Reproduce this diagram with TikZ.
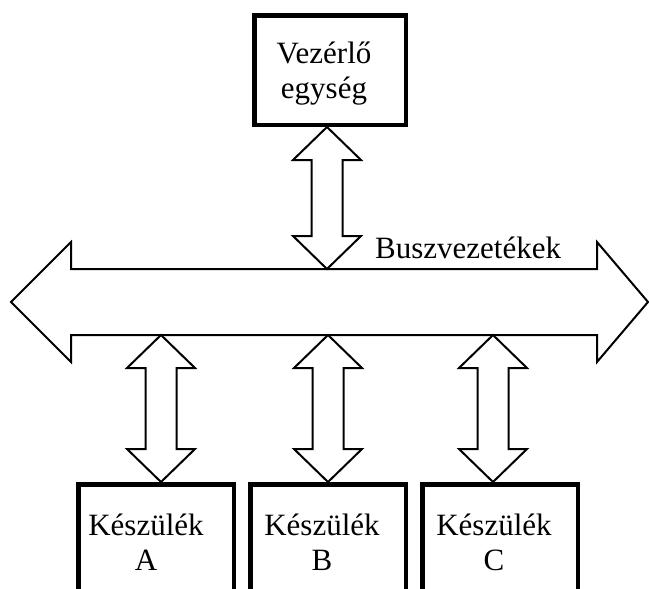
\documentclass[tikz,border=0pt]{standalone}
\usepackage{fontspec}
\setmainfont{Liberation Serif}
\usetikzlibrary{calc}
\newcommand\DoubleArr[2]{%
  \path[arrowline] (#1) -- ++(34,33) -- ++(-18.5,0) -- ($(#2)+(15.5,-33)$) -- ++(18.5,0) -- (#2)
    -- ++(-34,-33) -- ++(18.5,0) -- ($(#1)+(-15.5,33)$) -- ++(-18.5,0) -- cycle;}
\begin{document}
\begin{tikzpicture}[x=1pt,y=-1pt,
  box/.style={draw, line width=4.5pt, inner sep=0pt},
  lbl/.style={font=\fontsize{31}{35}\selectfont, align=center, inner sep=0pt},
  arrowline/.style={draw, line width=2pt, line join=miter, fill=white},
  busline/.style={draw, line width=2pt, line join=miter}
]
\useasboundingbox (0,0) rectangle (649,589);
\clip (0,0) rectangle (649,589);
% control unit
\node[box, minimum width=151.5pt, minimum height=109.5pt] (ctrl) at (330,70) {};
\node[lbl, anchor=base] (ctrltxt) at (324,98) {Vezérlő\\egység};
% devices
\node[box, minimum width=155.5pt, minimum height=150pt] (devA) at (156,559.25) {};
\node[box, minimum width=155.5pt, minimum height=150pt] (devB) at (328,559.25) {};
\node[box, minimum width=155.5pt, minimum height=150pt] (devC) at (500,559.25) {};
\node[lbl, anchor=base] (txtA) at (146,570) {Készülék\\A};
\node[lbl, anchor=base] (txtB) at (322,570) {Készülék\\B};
\node[lbl, anchor=base] (txtC) at (494,570) {Készülék\\C};
% bus
\path[busline] (11,302) -- (71,242) -- (71,269) -- (597,269) -- (597,242) -- (648,302)
  -- (597,362) -- (597,335) -- (71,335) -- (71,362) -- cycle;
\node[lbl, anchor=base west] (buslbl) at (375,258) {Buszvezetékek};
\coordinate (busT) at (327,269);
\coordinate (busA) at (161,335);
\coordinate (busB) at (328,335);
\coordinate (busC) at (493,335);
\coordinate (ctrlS) at ($(ctrl.south)+(-3,0)$);
\coordinate (devAN) at ($(devA.north)+(5,0)$);
\coordinate (devBN) at (devB.north);
\coordinate (devCN) at ($(devC.north)+(-7,0)$);
% connectors
\DoubleArr{ctrlS}{busT}
\DoubleArr{busA}{devAN}
\DoubleArr{busB}{devBN}
\DoubleArr{busC}{devCN}
\end{tikzpicture}
\end{document}
